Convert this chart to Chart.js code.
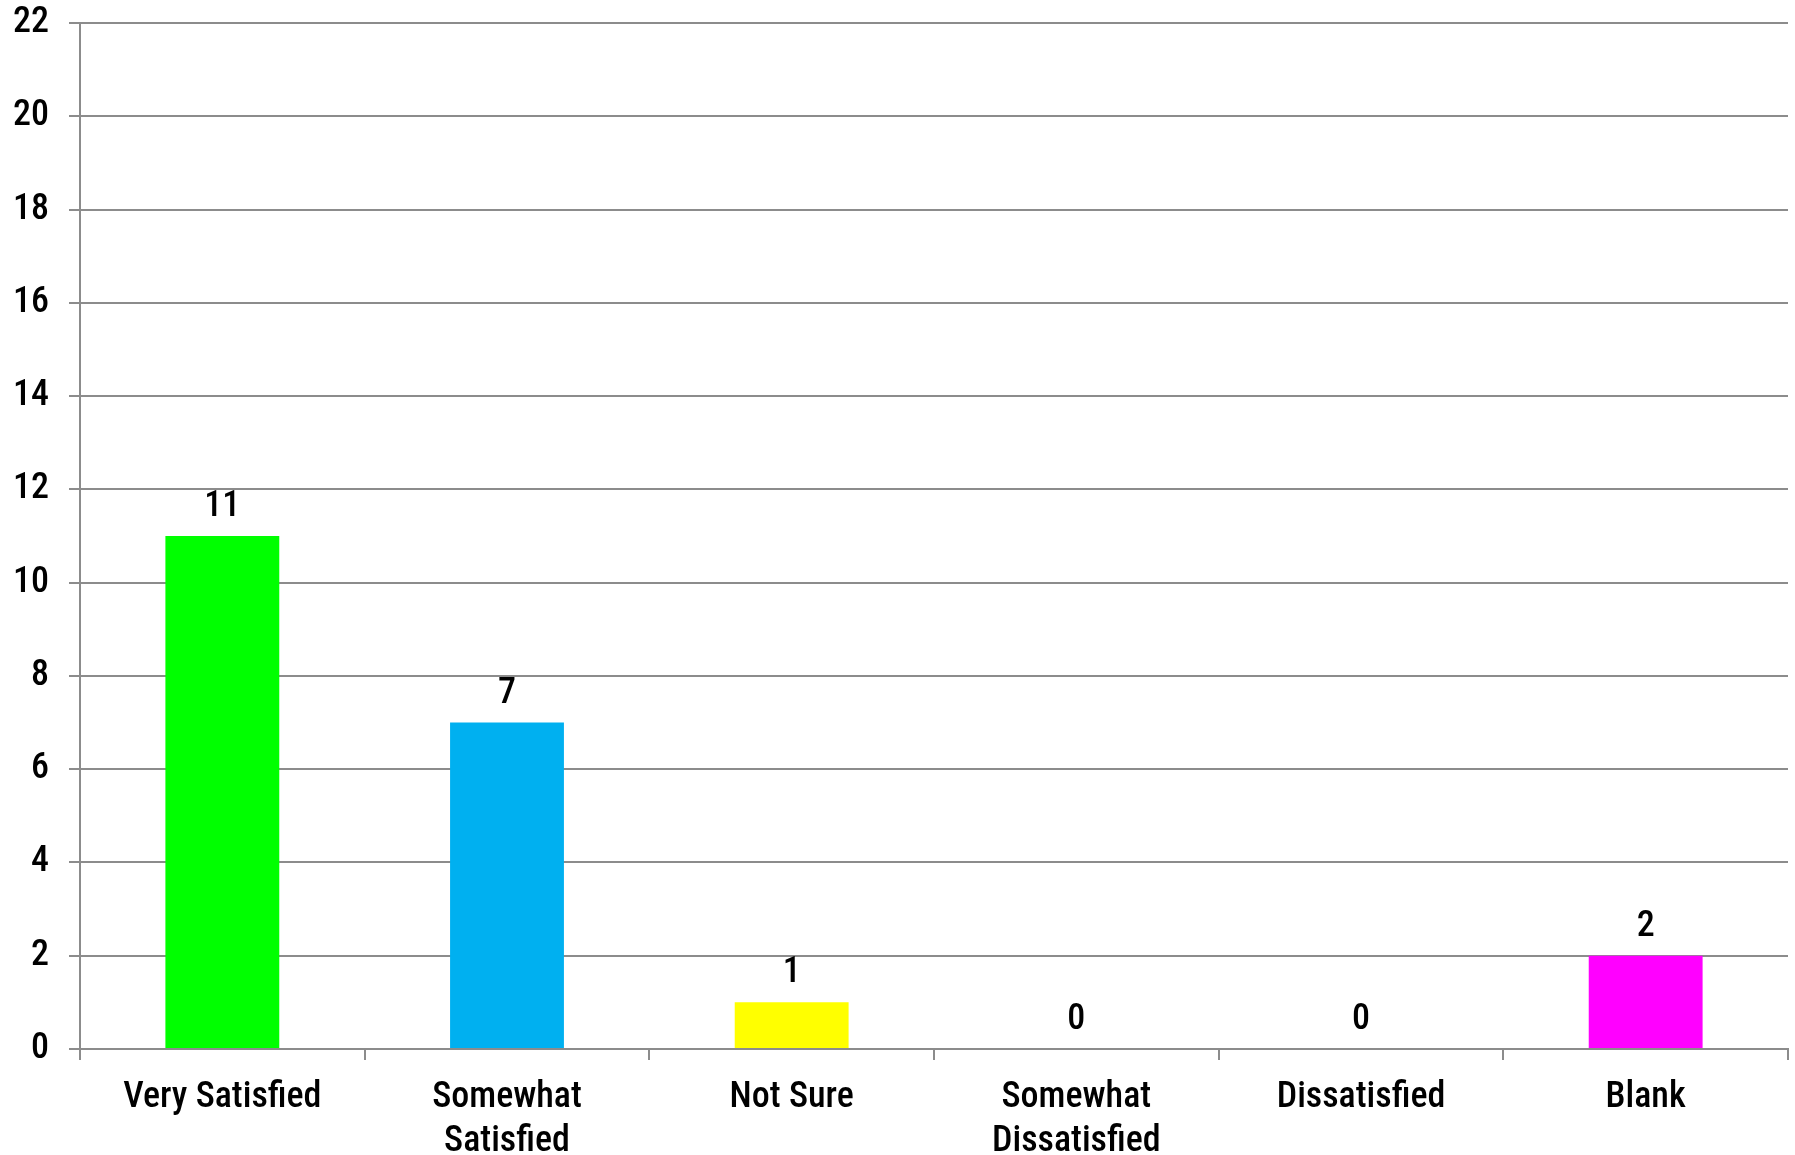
<!DOCTYPE html>
<html>
<head>
<meta charset="utf-8">
<script src="https://cdn.jsdelivr.net/npm/chart.js@4"></script>
<style>
    html, body { margin: 0; padding: 0; background: #fff; }
    #wrap { width: 1795px; height: 1155px; }
</style>
</head>
<body>
<div id="wrap"><canvas id="satisfaction"></canvas></div>
<script>
const categories = [
    'Very Satisfied',
    ['Somewhat', 'Satisfied'],
    'Not Sure',
    ['Somewhat', 'Dissatisfied'],
    'Dissatisfied',
    'Blank'
];
const responses = [11, 7, 1, 0, 0, 2];
const barColors = ['#00ff00', '#00b0f0', '#ffff00', '#ff00ff', '#ff00ff', '#ff00ff'];
const yTicks = [0, 2, 4, 6, 8, 10, 12, 14, 16, 18, 20, 22];

const fontFamily = "'Liberation Sans Narrow', 'Arial Narrow', 'Roboto Condensed', sans-serif";
const fontWeight = '500';
const gridColor = '#8c8c8c';

// draw the count above every bar, also the zero ones
const valueLabels = {
    id: 'valueLabels',
    afterDatasetsDraw(chart) {
        const ctx = chart.ctx;
        const meta = chart.getDatasetMeta(0);
        ctx.save();
        ctx.fillStyle = '#000';
        ctx.font = fontWeight + ' 36px ' + fontFamily;
        ctx.textAlign = 'center';
        ctx.textBaseline = 'alphabetic';
        meta.data.forEach(function (bar, i) {
            ctx.fillText(String(responses[i]), bar.x, bar.y - 20);
        });
        ctx.restore();
    }
};

const ctx = document.getElementById('satisfaction');
const chart = new Chart(ctx, {
    type: 'bar',
    data: {
        labels: categories,
        datasets: [{
            label: 'Responses',
            data: responses,
            backgroundColor: barColors,
            categoryPercentage: 1,
            barPercentage: 0.4
        }]
    },
    options: {
        responsive: true,
        maintainAspectRatio: false,
        animation: false,
        layout: { padding: { top: 4, right: 7, bottom: 0, left: 0 } },
        plugins: {
            legend: { display: false },
            tooltip: { enabled: false }
        },
        scales: {
            x: {
                offset: true,
                grid: {
                    offset: true,
                    drawOnChartArea: false,
                    drawTicks: true,
                    tickLength: 11,
                    color: gridColor,
                    lineWidth: 2
                },
                border: { color: gridColor, width: 2 },
                ticks: {
                    color: '#000',
                    padding: 16,
                    maxRotation: 0,
                    font: { family: fontFamily, size: 36, weight: fontWeight, lineHeight: 1.22 }
                },
                afterFit(scale) { scale.height = 106; }
            },
            y: {
                min: 0,
                max: 22,
                afterBuildTicks(scale) {
                    scale.ticks = yTicks.map(v => ({ value: v }));
                },
                grid: {
                    color: gridColor,
                    lineWidth: 2,
                    tickLength: 11
                },
                border: { color: gridColor, width: 2 },
                ticks: {
                    color: '#000',
                    padding: 20,
                    font: { family: fontFamily, size: 36, weight: fontWeight }
                },
                afterFit(scale) {
                    scale.width = 80;
                    scale.paddingTop = 23;
                    scale.paddingBottom = 10;
                }
            }
        }
    },
    plugins: [valueLabels]
});
</script>
</body>
</html>
